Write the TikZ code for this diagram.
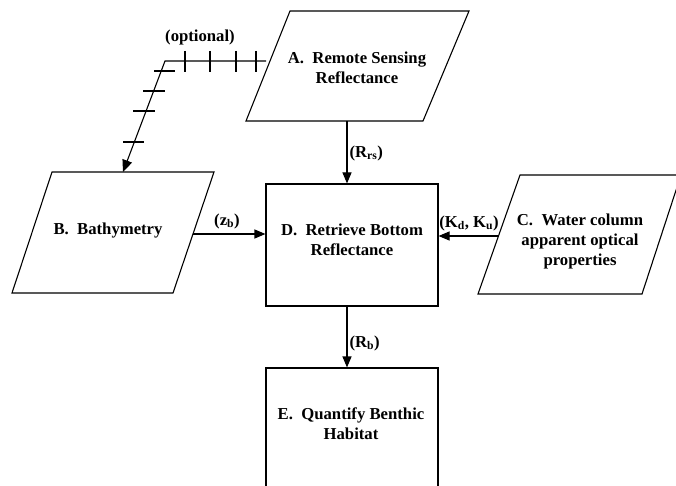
\documentclass[tikz,border=0pt]{standalone}
\usepackage{fontspec}
\setmainfont{Liberation Serif}
\usetikzlibrary{arrows.meta}
\begin{document}
\begin{tikzpicture}[x=1pt,y=-1pt,
  every node/.style={font=\fontsize{16.7}{20}\selectfont\bfseries},
  arr/.style={-{Triangle[length=11pt,width=9pt]}},
  para/.style={draw, line width=1.1pt, line join=miter},
  box/.style={draw, rectangle, inner sep=0pt, line width=1.1pt},
  txt/.style={align=center, inner sep=0pt},
  lbl/.style={inner sep=0pt},
  tick/.style={line width=1.1pt},
  line width=1.1pt]
\useasboundingbox (0,0) rectangle (676,486);
\clip (0,0) rectangle (676,486);

% parallelograms
\draw[para] (290,11) -- (469,11) -- (423,121) -- (246,121) -- cycle;
\draw[para] (52,172) -- (214,172) -- (173,293) -- (12,293) -- cycle;
\draw[para] (520,175) -- (681,175) -- (642,294) -- (478,294) -- cycle;
% boxes
\node[box, minimum width=172pt, minimum height=122pt] (D) at (352,245) {};
\node[box, minimum width=172pt, minimum height=150pt] (E) at (352,443) {};

% texts
\node[txt] (At) at (357,68) {A.\ \ Remote Sensing\\Reflectance};
\node[txt] (Bt) at (108,231) {B.\ \ Bathymetry};
\node[txt] (Ct) at (580,241) {C.\ \ Water column\\apparent optical\\properties};
\node[txt] (Dt) at (352,240) {D.\ \ Retrieve Bottom\\Reflectance};
\node[txt] (Et) at (351,424) {E.\ \ Quantify Benthic\\Habitat};

% connector ends on the parallelograms
\coordinate (Aout) at (347,121);
\coordinate (Bout) at (193,234);
\coordinate (Cout) at (498.5,236);

% connectors
\draw[arr] (Aout) -- (Aout |- D.north);
\draw[arr] (Bout) -- (Bout -| D.west);
\draw[arr] (Cout) -- (Cout -| D.east);
\draw[arr] ([xshift=-5pt]D.south) -- ([xshift=-5pt]D.south |- E.north);

% optional path
\coordinate (o1) at (266,61);
\coordinate (o2) at (165,61);
\coordinate (o3) at (123,172);
\draw[-{Triangle[length=12pt,width=10pt]}] (o1) -- (o2) -- (o3);
\foreach \x in {185,210,236,256} \draw[tick] (\x,51) -- (\x,72);
\draw[tick] (154,71) -- (175,71);
\draw[tick] (143,91) -- (165,91);
\draw[tick] (133,111) -- (155,111);
\draw[tick] (123,142) -- (144,142);

% labels
\node[lbl] (Lopt) at (200,37) {(optional)};
\node[lbl, anchor=west] (Lrs) at (349,153) {(R\textsubscript{rs})};
\node[lbl] (Lzb) at (227,221) {(z\textsubscript{b})};
\node[lbl] (Lk) at (469,223) {(K\textsubscript{d}, K\textsubscript{u})};
\node[lbl, anchor=west] (Lrb) at (349,343) {(R\textsubscript{b})};
\end{tikzpicture}
\end{document}
